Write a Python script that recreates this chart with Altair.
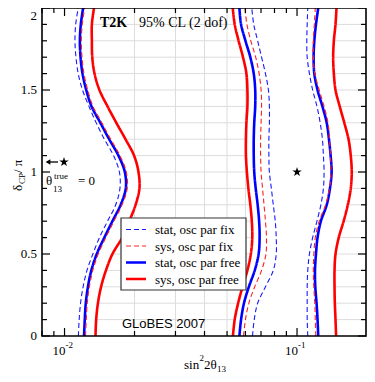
import altair as alt
import numpy as np
import pandas as pd

# ---------------- data ----------------
# delta_CP / pi sampling (y)
V = [0.0, 0.1, 0.2, 0.3, 0.4, 0.5, 0.6, 0.7, 0.8, 0.9, 1.0,
     1.1, 1.2, 1.3, 1.4, 1.5, 1.6, 1.7, 1.8, 1.9, 2.0]

# sin^2 2theta13 of each contour piece (v = 0 ... 2)
LEFT_STAT_FIX = [0.01147, 0.01156, 0.01172, 0.01202, 0.01249, 0.01324, 0.01413, 0.01531, 0.01660, 0.01731, 0.01722,
                 0.01625, 0.01483, 0.01368, 0.01274, 0.01195, 0.01145, 0.01120, 0.01109, 0.01117, 0.01145]
LEFT_SYS_FIX = [0.01231, 0.01240, 0.01252, 0.01279, 0.01323, 0.01396, 0.01505, 0.01630, 0.01768, 0.01861, 0.01844,
                0.01731, 0.01579, 0.01447, 0.01326, 0.01258, 0.01212, 0.01189, 0.01181, 0.01192, 0.01220]
LEFT_STAT_FREE = [0.01213, 0.01222, 0.01234, 0.01261, 0.01304, 0.01376, 0.01483, 0.01607, 0.01743, 0.01834, 0.01817,
                  0.01706, 0.01556, 0.01426, 0.01307, 0.01240, 0.01195, 0.01172, 0.01164, 0.01175, 0.01202]
LEFT_SYS_FREE = [0.01359, 0.01368, 0.01392, 0.01436, 0.01507, 0.01607, 0.01770, 0.01898, 0.02021, 0.02100, 0.02080,
                 0.01991, 0.01829, 0.01670, 0.01531, 0.01413, 0.01346, 0.01316, 0.01311, 0.01311, 0.01339]

MID_STAT_FIX = [0.06433, 0.06546, 0.06771, 0.07316, 0.07905, 0.08138, 0.08138, 0.08060, 0.07905, 0.07754, 0.07605,
                0.07568, 0.07568, 0.07605, 0.07605, 0.07532, 0.07316, 0.07039, 0.06771, 0.06514, 0.06389]
MID_SYS_FIX = [0.05885, 0.06000, 0.06206, 0.06577, 0.07039, 0.07352, 0.07388, 0.07316, 0.07211, 0.07107, 0.07005,
               0.06971, 0.06971, 0.07005, 0.07039, 0.07005, 0.06870, 0.06641, 0.06328, 0.06087, 0.05971]
MID_STAT_FREE = [0.05651, 0.05745, 0.05913, 0.06206, 0.06577, 0.06837, 0.06903, 0.06870, 0.06771, 0.06641, 0.06546,
                 0.06514, 0.06514, 0.06546, 0.06609, 0.06609, 0.06514, 0.06297, 0.06000, 0.05745, 0.05651]
MID_SYS_FREE = [0.05301, 0.05394, 0.05580, 0.05828, 0.06117, 0.06328, 0.06420, 0.06389, 0.06297, 0.06176, 0.06087,
                0.06029, 0.06029, 0.06058, 0.06117, 0.06117, 0.06058, 0.05856, 0.05607, 0.05394, 0.05291]

RIGHT_STAT_FIX = [0.11123, 0.11059, 0.11059, 0.11059, 0.11123, 0.11307, 0.11674, 0.12182, 0.12663, 0.12985, 0.13073,
                  0.12985, 0.12860, 0.12577, 0.12182, 0.11674, 0.11307, 0.11059, 0.11016, 0.11059, 0.11123]
RIGHT_SYS_FIX = [0.12041, 0.11983, 0.11925, 0.11811, 0.11754, 0.11811, 0.11983, 0.12456, 0.13265, 0.13788, 0.13989,
                 0.13921, 0.13788, 0.13589, 0.13073, 0.12456, 0.11925, 0.11754, 0.11754, 0.11868, 0.11983]
RIGHT_STAT_FREE = [0.12336, 0.12253, 0.12135, 0.11983, 0.11948, 0.12065, 0.12253, 0.12663, 0.13419, 0.13855, 0.14084,
                   0.13949, 0.13721, 0.13419, 0.12860, 0.12253, 0.11868, 0.11788, 0.11868, 0.12065, 0.12336]
RIGHT_SYS_FREE = [0.14725, 0.14640, 0.14541, 0.14499, 0.14499, 0.14640, 0.15115, 0.15864, 0.16538, 0.17025, 0.17191,
                  0.17025, 0.16651, 0.15972, 0.15262, 0.14640, 0.14401, 0.14304, 0.14401, 0.14640, 0.14783]

SERIES = ["stat_fix", "sys_fix", "stat_free", "sys_free"]
LABELS = ["stat, osc par fix", "sys, osc par fix", "stat, osc par free", "sys, osc par free"]
PIECES = {
    "stat_fix": [LEFT_STAT_FIX, MID_STAT_FIX, RIGHT_STAT_FIX],
    "sys_fix": [LEFT_SYS_FIX, MID_SYS_FIX, RIGHT_SYS_FIX],
    "stat_free": [LEFT_STAT_FREE, MID_STAT_FREE, RIGHT_STAT_FREE],
    "sys_free": [LEFT_SYS_FREE, MID_SYS_FREE, RIGHT_SYS_FREE],
}

X_DOMAIN = [0.008, 0.198]
Y_DOMAIN = [0.0, 2.0]
X_MAJOR = [0.01, 0.1]
X_MAJOR_EXP = ["-2", "-1"]
X_MINOR = [0.008, 0.009, 0.02, 0.03, 0.04, 0.05, 0.06, 0.07, 0.08, 0.09]
Y_MAJOR = [0.0, 0.5, 1.0, 1.5, 2.0]
Y_MAJOR_LABELS = ["0", "0.5", "1", "1.5", "2"]
Y_MINOR = [0.1, 0.2, 0.3, 0.4, 0.6, 0.7, 0.8, 0.9, 1.1, 1.2, 1.3, 1.4, 1.6, 1.7, 1.8, 1.9]
TRUE_POINT = [{"x": 0.1, "y": 1.0}]

# ---------------- styling ----------------
# svg = (34 + 324 + 1) x (0 + 328 + 38) = 359 x 366 -> page fits 375 x 382 with 8px margins
W, H = 324, 328
STYLE = {
    "stat_fix": ("#1a1aff", [5, 3], 1.1),
    "sys_fix": ("#ff2020", [5, 3], 1.1),
    "stat_free": ("#0000ff", [1, 0], 2.6),
    "sys_free": ("#ff0000", [1, 0], 2.6),
}
SERIF = "Liberation Serif"
SANS = "Liberation Sans"
GRID = "#dcdcdc"
STAR = ("M0,-1L0.223,-0.307L0.951,-0.309L0.361,0.117L0.588,0.809L0,0.38"
        "L-0.588,0.809L-0.361,0.117L-0.951,-0.309L-0.223,-0.307Z")

XS = alt.Scale(type="log", domain=X_DOMAIN, nice=False)
YS = alt.Scale(domain=Y_DOMAIN, nice=False, zero=False)


def X(f):
    return alt.X(f, type="quantitative", scale=XS, axis=None)


def Y(f):
    return alt.Y(f, type="quantitative", scale=YS, axis=None)


def one():
    return alt.Data(values=[{}])


layers = []

# ---- grid: only shown in the excluded regions (outside the outer red contours) ----
Lb, Mb, Rb = LEFT_SYS_FREE, MID_SYS_FREE, RIGHT_SYS_FREE
hseg = []
for yv in Y_MINOR + Y_MAJOR[1:-1]:
    i = V.index(yv)
    hseg.append({"y": yv, "x1": Lb[i], "x2": Mb[i]})
    hseg.append({"y": yv, "x1": Rb[i], "x2": X_DOMAIN[1]})
fine = np.linspace(Y_DOMAIN[0], Y_DOMAIN[1], 801)
Lf, Mf, Rf = (np.interp(fine, V, a) for a in (Lb, Mb, Rb))
vseg = []
for g in X_MINOR + X_MAJOR:
    vis = ((Lf < g) & (g < Mf)) | (Rf < g)
    start = None
    for k, ok in enumerate(vis):
        if ok and start is None:
            start = k
        if (not ok or k == len(vis) - 1) and start is not None:
            end = k if ok else k - 1
            if end > start:
                vseg.append({"x": g, "y1": float(fine[start]), "y2": float(fine[end])})
            start = None
layers.append(alt.Chart(pd.DataFrame(hseg)).mark_rule(color=GRID, strokeWidth=1).encode(
    y=Y("y"), x=X("x1"), x2=alt.X2("x2")))
if vseg:
    layers.append(alt.Chart(pd.DataFrame(vseg)).mark_rule(color=GRID, strokeWidth=1).encode(
        x=X("x"), y=Y("y1"), y2=alt.Y2("y2")))

# ---- contour curves ----
rows = []
for s in SERIES:
    for gi, arr in enumerate(PIECES[s]):
        for v, x in zip(V, arr):
            rows.append({"series": s, "piece": gi, "v": v, "x": x})
curves = pd.DataFrame(rows)
for s in ["stat_free", "sys_free", "stat_fix", "sys_fix"]:
    col, dash, sw = STYLE[s]
    layers.append(alt.Chart(curves[curves.series == s].reset_index(drop=True)).mark_line(
        color=col, strokeDash=dash, strokeWidth=sw, interpolate="catmull-rom").encode(
        x=X("x"), y=Y("v"), detail="piece:N", order="v:Q"))

# ---- ticks (inward, on all four sides) ----
for vals, ln in [(X_MAJOR, 8), (X_MINOR, 5)]:
    d = pd.DataFrame({"x": vals})
    layers.append(alt.Chart(d).mark_rule(color="black", strokeWidth=1.2).encode(
        x=X("x"), y=alt.value(H), y2=alt.value(H - ln)))
    layers.append(alt.Chart(d).mark_rule(color="black", strokeWidth=1.2).encode(
        x=X("x"), y=alt.value(0), y2=alt.value(ln)))
for vals, ln in [(Y_MAJOR, 8), (Y_MINOR, 5)]:
    d = pd.DataFrame({"y": vals})
    layers.append(alt.Chart(d).mark_rule(color="black", strokeWidth=1.2).encode(
        y=Y("y"), x=alt.value(0), x2=alt.value(ln)))
    layers.append(alt.Chart(d).mark_rule(color="black", strokeWidth=1.2).encode(
        y=Y("y"), x=alt.value(W), x2=alt.value(W - ln)))

# frame
layers.append(alt.Chart(one()).mark_rect(fill="white", fillOpacity=0, stroke="black", strokeWidth=1.6).encode(
    x=alt.value(0), x2=alt.value(W), y=alt.value(0), y2=alt.value(H)))

# ---- axis labels ----
ylab = pd.DataFrame({"y": Y_MAJOR[:-1], "t": Y_MAJOR_LABELS[:-1]})
layers.append(alt.Chart(ylab).mark_text(font=SERIF, fontSize=13, align="right", baseline="middle", color="black").encode(
    y=Y("y"), x=alt.value(-5), text="t:N"))
ytop = pd.DataFrame({"y": Y_MAJOR[-1:], "t": Y_MAJOR_LABELS[-1:]})
layers.append(alt.Chart(ytop).mark_text(font=SERIF, fontSize=13, align="right", baseline="top", dy=2, color="black").encode(
    y=Y("y"), x=alt.value(-5), text="t:N"))
xlab = pd.DataFrame({"x": X_MAJOR, "e": X_MAJOR_EXP, "b": ["10", "10"]})
layers.append(alt.Chart(xlab).mark_text(font=SERIF, fontSize=13, align="right", baseline="alphabetic", dx=1, color="black").encode(
    x=X("x"), y=alt.value(H + 19), text="b:N"))
layers.append(alt.Chart(xlab).mark_text(font=SERIF, fontSize=9, align="left", baseline="alphabetic", dx=1, color="black").encode(
    x=X("x"), y=alt.value(H + 12), text="e:N"))


def txt(t, x, y, size=13, font=SERIF, weight="normal", angle=0, align="left", baseline="alphabetic"):
    kw = dict(font=font, fontSize=size, fontWeight=weight, align=align, baseline=baseline, color="black")
    if angle:
        kw["angle"] = angle
    return alt.Chart(one()).mark_text(**kw).encode(x=alt.value(x), y=alt.value(y), text=alt.value(t))


# ---- axis titles ----
layers += [
    txt("sin", 142, 361), txt("2", 157.5, 353, size=9), txt("2θ", 162, 361), txt("13", 175, 364, size=9),
    txt("δ", -20, 183, angle=270), txt("CP", -17, 176, size=9, angle=270), txt(" / π", -20, 165, angle=270),
]

# ---- annotations ----
layers += [
    txt("T2K", 58, 19, size=14, weight="bold"),
    txt("95% CL (2 dof)", 97, 19, size=14),
    txt("GLoBES 2007", 80, 320, size=13, font=SANS),
    txt("θ", 4, 177), txt("13", 11, 183.5, size=9), txt("true", 12, 171, size=9), txt("= 0", 36, 177),
]
layers.append(alt.Chart(one()).mark_rule(color="black", strokeWidth=1.3).encode(
    x=alt.value(5), x2=alt.value(16), y=alt.value(154)))
layers.append(alt.Chart(one()).mark_point(shape="triangle-left", filled=True, color="black", size=30, opacity=1).encode(
    x=alt.value(6), y=alt.value(154)))
layers.append(alt.Chart(one()).mark_point(shape=STAR, filled=True, color="black", size=100, opacity=1).encode(
    x=alt.value(22), y=alt.value(154)))
layers.append(alt.Chart(alt.Data(values=TRUE_POINT)).mark_point(shape=STAR, filled=True, color="black", size=100, opacity=1).encode(
    x=X("x:Q"), y=Y("y:Q")))

# ---- legend ----
LX0, LX1, LY0, LY1 = 79, 204, 210, 282
layers.append(alt.Chart(one()).mark_rect(fill="white", stroke="#333333", strokeWidth=1.2).encode(
    x=alt.value(LX0), x2=alt.value(LX1), y=alt.value(LY0), y2=alt.value(LY1)))
ROW_Y = [221.5, 238, 254.5, 271]
for s, lab, ry in zip(SERIES, LABELS, ROW_Y):
    col, dash, sw = STYLE[s]
    layers.append(alt.Chart(one()).mark_rule(color=col, strokeDash=dash, strokeWidth=sw).encode(
        x=alt.value(84), x2=alt.value(104), y=alt.value(ry)))
    layers.append(txt(lab, 113, ry + 4.5, size=13))

chart = alt.layer(*layers).properties(
    width=W, height=H,
    padding={"left": 34, "top": 0, "right": 1, "bottom": 38},
    autosize=alt.AutoSizeParams(type="none"),
    background="white",
).configure_view(strokeWidth=0)

chart.save("out.html", embed_options={"renderer": "svg", "actions": False})
